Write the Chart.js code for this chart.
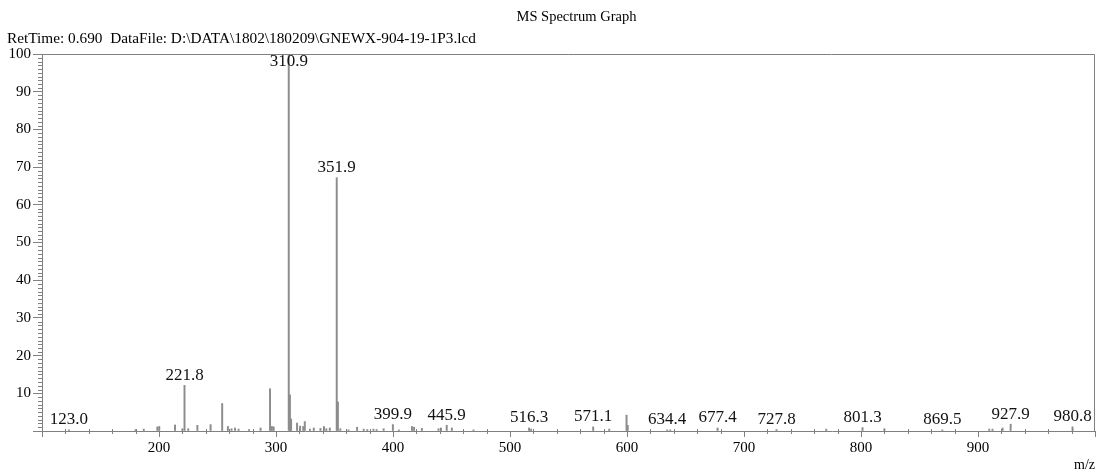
<!DOCTYPE html>
<html>
<head>
<meta charset="utf-8">
<title>MS Spectrum Graph</title>
<script src="https://cdn.jsdelivr.net/npm/chart.js@4.4.1/dist/chart.umd.min.js"></script>
<style>
  html, body { margin: 0; padding: 0; background: #fff; }
  #wrap { width: 1099px; height: 474px; position: relative; }
</style>
</head>
<body>
<div id="wrap"><canvas id="msChart"></canvas></div>
<script>
// Espectro: m/z e intensidad relativa (%)
const mzValues = [
  123.0, 180.0, 187.0, 198.6, 200.2, 213.7, 220.0, 221.8, 225.0, 232.8,
  244.1, 254.0, 258.9, 262.0, 265.0, 268.0, 277.0, 286.8, 294.9, 296.5,
  298.0, 310.9, 311.9, 312.9, 318.0, 320.6, 323.3, 324.6, 329.0, 332.3,
  338.0, 341.0, 343.0, 346.0, 351.9, 352.9, 355.0, 362.0, 369.3, 375.0,
  378.0, 383.3, 386.0, 392.0, 399.9, 405.0, 416.2, 418.0, 424.7, 438.9,
  441.0, 445.9, 450.3, 468.8, 516.3, 518.0, 571.1, 584.8, 599.6, 600.6,
  634.4, 637.0, 677.4, 727.8, 770.3, 801.3, 820.0, 869.5, 909.6, 912.4,
  921.0, 927.9, 980.8
];
const intensities = [
  0.3, 0.4, 0.5, 1.1, 1.2, 1.6, 0.6, 12.1, 0.6, 1.5,
  1.7, 7.3, 1.2, 0.6, 0.8, 0.5, 0.4, 0.8, 11.2, 1.2,
  1.1, 100, 9.6, 3.2, 2.1, 1.3, 1.2, 2.5, 0.5, 0.8,
  0.7, 1.2, 0.6, 0.8, 67.2, 7.7, 0.6, 0.3, 1.0, 0.5,
  0.4, 0.5, 0.4, 0.6, 1.7, 0.3, 1.2, 1.0, 0.7, 0.6,
  0.8, 1.5, 0.8, 0.3, 0.8, 0.5, 1.1, 0.5, 4.2, 1.5,
  0.3, 0.3, 0.8, 0.4, 0.5, 0.9, 0.6, 0.3, 0.5, 0.5,
  0.8, 1.8, 1.1
];
// Picos anotados
const labeledPeaks = [123.0, 221.8, 310.9, 351.9, 399.9, 445.9, 516.3, 571.1,
  634.4, 677.4, 727.8, 801.3, 869.5, 927.9, 980.8];
const xTicks = [200, 300, 400, 500, 600, 700, 800, 900];
const yTicks = [10, 20, 30, 40, 50, 60, 70, 80, 90, 100];

const headerTitle = 'MS Spectrum Graph';
const headerInfo = 'RetTime: 0.690  DataFile: D:\\DATA\\1802\\180209\\GNEWX-904-19-1P3.lcd';

const serif = '"Liberation Serif", "DejaVu Serif", serif';
const axisGray = '#808080';

// Encabezado, marco y marcas menores
const decorPlugin = {
  id: 'decor',
  afterDraw(chart) {
    const { ctx, chartArea: a, scales: { x, y } } = chart;
    ctx.save();
    ctx.fillStyle = '#000';
    ctx.font = '14.5px ' + serif;
    ctx.textBaseline = 'middle';
    ctx.textAlign = 'center';
    ctx.fillText(headerTitle, (a.left + a.right) / 2 + 8, 17);
    ctx.textAlign = 'left';
    ctx.font = '15.3px ' + serif;
    ctx.fillText(headerInfo, 7, 39);

    ctx.strokeStyle = axisGray;
    ctx.lineWidth = 1;
    ctx.beginPath();
    ctx.moveTo(a.left, a.top + 0.5);
    ctx.lineTo(a.right - 0.5, a.top + 0.5);
    ctx.lineTo(a.right - 0.5, a.bottom);
    ctx.stroke();

    ctx.beginPath();
    for (let v = 1; v < 100; v++) {
      if (v % 10 === 0) continue;
      const py = Math.round(y.getPixelForValue(v)) + 0.5;
      ctx.moveTo(a.left - 4, py);
      ctx.lineTo(a.left, py);
    }
    for (let v = 120; v < 1000; v += 20) {
      if (v % 100 === 0) continue;
      const px = Math.round(x.getPixelForValue(v)) + 0.5;
      ctx.moveTo(px, a.bottom - 2);
      ctx.lineTo(px, a.bottom + 3);
    }
    ctx.stroke();
    ctx.restore();
  }
};

const peakLabelPlugin = {
  id: 'peakLabels',
  afterDatasetsDraw(chart) {
    const { ctx, chartArea: a, scales: { x, y } } = chart;
    ctx.save();
    ctx.fillStyle = '#111';
    ctx.font = '17px ' + serif;
    ctx.textAlign = 'center';
    ctx.textBaseline = 'middle';
    labeledPeaks.forEach(mz => {
      const i = mzValues.indexOf(mz);
      const px = x.getPixelForValue(mz);
      let py = y.getPixelForValue(intensities[i]) - 10;
      if (py < a.top + 8) py = a.top + 8;
      ctx.fillText(mz.toFixed(1), px, py);
    });
    ctx.restore();
  }
};

const ctx = document.getElementById('msChart').getContext('2d');
new Chart(ctx, {
  type: 'bar',
  data: {
    datasets: [{
      data: mzValues.map((m, i) => ({ x: m, y: intensities[i] })),
      backgroundColor: '#8c8c8c',
      borderWidth: 0,
      barThickness: 1.3,
      grouped: false
    }]
  },
  options: {
    responsive: true,
    maintainAspectRatio: false,
    animation: false,
    layout: { padding: { top: 54, right: 4, bottom: 0, left: 0 } },
    plugins: {
      legend: { display: false },
      tooltip: { enabled: false }
    },
    scales: {
      x: {
        type: 'linear',
        min: 100,
        max: 1000,
        offset: false,
        afterFit: s => { s.height = 43; },
        afterBuildTicks: s => { s.ticks = [100].concat(xTicks, [1000]).map(v => ({ value: v })); },
        grid: { drawOnChartArea: false, offset: false, tickLength: 6, color: axisGray },
        border: { color: axisGray },
        ticks: {
          autoSkip: false,
          maxRotation: 0,
          padding: 2,
          color: '#000',
          font: { family: serif, size: 15 },
          callback: v => xTicks.includes(v) ? String(v) : ''
        },
        title: {
          display: true,
          text: 'm/z',
          align: 'end',
          color: '#000',
          padding: 0,
          font: { family: serif, size: 14 }
        }
      },
      y: {
        min: 0,
        max: 100,
        afterFit: s => { s.width = 42; },
        afterBuildTicks: s => { s.ticks = [0].concat(yTicks).map(v => ({ value: v })); },
        grid: { drawOnChartArea: false, tickLength: 9, color: axisGray },
        border: { color: axisGray },
        ticks: {
          autoSkip: false,
          padding: 2,
          color: '#000',
          font: { family: serif, size: 15 },
          callback: v => v === 0 ? '' : String(v)
        }
      }
    }
  },
  plugins: [decorPlugin, peakLabelPlugin]
});
</script>
</body>
</html>
